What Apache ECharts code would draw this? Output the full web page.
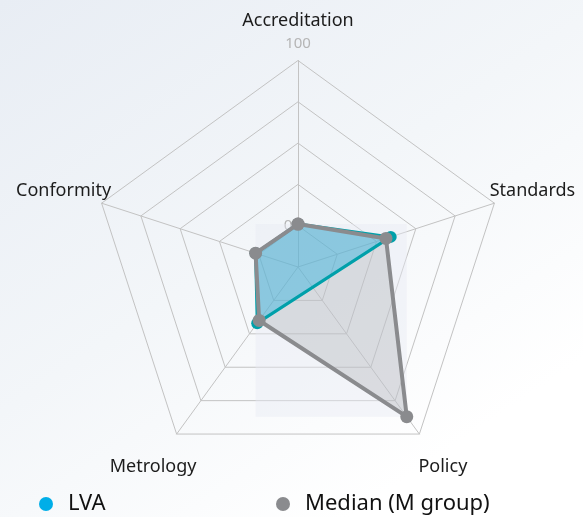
<!DOCTYPE html>
<html><head><meta charset="utf-8">
<script src="https://cdn.jsdelivr.net/npm/echarts@6/dist/echarts.min.js"></script>
<style>html,body{margin:0;padding:0;background:#fff}#c{width:583px;height:517px}</style>
</head><body><div id="c"></div>
<script>
// ---- data ----
const categories = ['Accreditation', 'Standards', 'Policy', 'Metrology', 'Conformity'];
const lvaValues = [1, 34, null, 17, 2];          // Policy missing for LVA
const medianValues = [1, 31, 87, 15, 2];
const axisMin = -25;
const axisMax = 100;
const axisSplits = 5;
const shownTickLabels = [0, 100];
const seriesNames = ['LVA', 'Median (M group)'];

// ---- style / layout ----
const FONT = '"Noto Sans", "Open Sans", sans-serif';
const CX = 298, CY = 267, R = 206.5;
const TEAL = '#00a0aa', CYAN = '#00aee8', GRAY = '#8a8b8e', GRID = '#c3c3c3';

// radar lays indicators counter-clockwise; reference runs clockwise
const radarOrder = [0, 4, 3, 2, 1];
const indicators = radarOrder.map((k, j) => {
  const ind = { name: categories[k], min: axisMin, max: axisMax };
  if (j === 0) {
    ind.axisLabel = {
      show: true, margin: 0, align: 'center', verticalAlign: 'middle',
      color: '#b5b5b5', fontSize: 15, fontFamily: FONT,
      formatter: v => shownTickLabels.indexOf(v) < 0 ? '' : (v === axisMax ? '{a|' + v + '}' : '{b|' + v + '}'),
      rich: {
        a: { padding: [0, 0, 34, 0], color: '#b5b5b5', fontSize: 15, fontFamily: FONT },
        b: { padding: [0, 20, 0, 0], color: '#b5b5b5', fontSize: 15, fontFamily: FONT }
      }
    };
  }
  return ind;
});

const n = categories.length;
const toPolar = vals => vals.map((v, i) => [v == null ? '-' : v, i * 360 / n]).concat([[vals[0], 360]]);

const legendText = { fontSize: 22, color: '#111', fontFamily: FONT };
const chart = echarts.init(document.getElementById('c'), null, { renderer: 'canvas' });
chart.setOption({
  animation: false,
  backgroundColor: {
    type: 'linear', x: 0, y: 0, x2: 0.6, y2: 1,
    colorStops: [
      { offset: 0, color: '#e8edf4' },
      { offset: 0.55, color: '#f3f6f9' },
      { offset: 1, color: '#ffffff' }
    ]
  },
  radar: {
    z: 1,
    center: [CX, CY], radius: R, shape: 'polygon',
    splitNumber: axisSplits,
    indicator: indicators,
    axisNameGap: 40,
    axisName: { color: '#1c1c1c', fontSize: 18, fontFamily: FONT, align: 'center', verticalAlign: 'middle' },
    axisLine: { lineStyle: { color: GRID, width: 1 } },
    splitLine: { lineStyle: { color: GRID, width: 1 } },
    splitArea: { show: false },
    axisTick: { show: false },
    axisLabel: { show: false }
  },
  polar: { center: [CX, CY], radius: R },
  angleAxis: { type: 'value', min: 0, max: 360, startAngle: 90, clockwise: true, show: false },
  radiusAxis: { type: 'value', min: axisMin, max: axisMax, show: false },
  legend: [
    { data: [{ name: seriesNames[0], itemStyle: { color: CYAN } }], left: 39, top: 493, padding: 0,
      icon: 'circle', itemWidth: 34, itemHeight: 14, textStyle: legendText },
    { data: [{ name: seriesNames[1], itemStyle: { color: GRAY } }], left: 276, top: 493, padding: 0,
      icon: 'circle', itemWidth: 34, itemHeight: 14, textStyle: legendText }
  ],
  series: [
    { type: 'line', coordinateSystem: 'polar', name: seriesNames[1], data: toPolar(medianValues),
      symbol: 'none', lineStyle: { opacity: 0 }, silent: true, z: 3,
      itemStyle: { color: GRAY },
      areaStyle: { color: 'rgba(140,141,146,0.34)', origin: 'start' } },
    { type: 'line', coordinateSystem: 'polar', name: seriesNames[0], data: toPolar(lvaValues),
      connectNulls: true, symbol: 'circle', symbolSize: 12, z: 4,
      itemStyle: { color: TEAL }, lineStyle: { color: TEAL, width: 3 },
      areaStyle: { color: 'rgba(0,168,225,0.5)', origin: 'start' } },
    { type: 'line', coordinateSystem: 'polar', name: seriesNames[1], data: toPolar(medianValues),
      symbol: 'circle', symbolSize: 13, z: 5,
      itemStyle: { color: GRAY }, lineStyle: { color: GRAY, width: 4 } }
  ]
});

// faint bounding box behind the median polygon, derived from its points through the polar scale
const pts = medianValues.map((v, i) => chart.convertToPixel({ seriesIndex: 2 }, [v, i * 360 / n])).filter(p => p);
if (pts.length) {
  const xs = pts.map(p => p[0]), ys = pts.map(p => p[1]);
  const x0 = Math.min.apply(null, xs), x1 = Math.max.apply(null, xs);
  const y0 = Math.min.apply(null, ys), y1 = Math.max.apply(null, ys);
  chart.setOption({
    graphic: [{ type: 'rect', silent: true, z: 2,
      shape: { x: x0, y: y0, width: x1 - x0, height: y1 - y0 },
      style: { fill: 'rgba(232,234,244,0.42)' } }]
  });
}
</script></body></html>
